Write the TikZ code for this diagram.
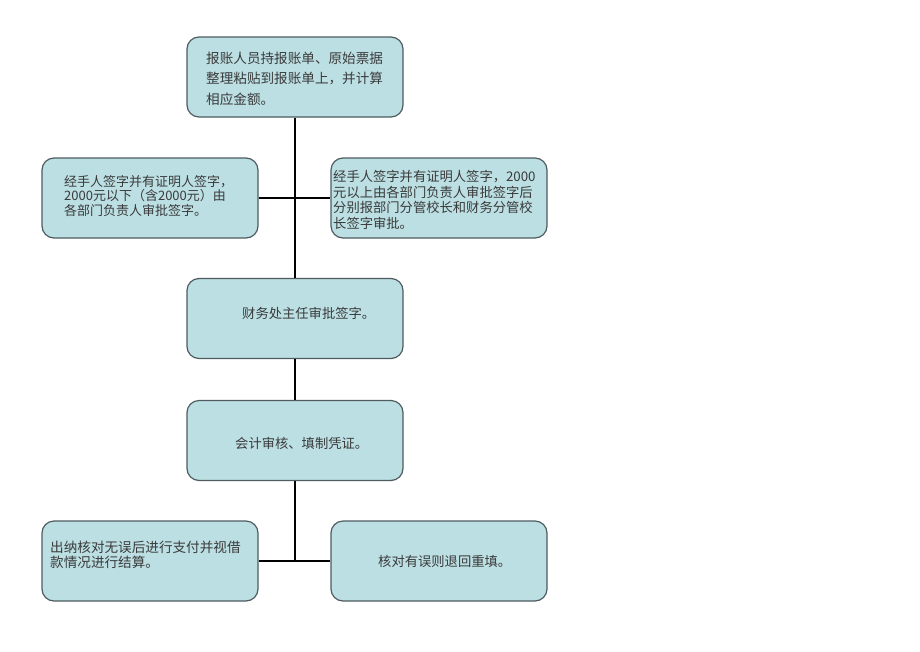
\documentclass[tikz,border=0pt]{standalone}
\usepackage{fontspec}
\newfontfamily\cjk{Noto Sans CJK SC}
\definecolor{boxfill}{HTML}{BCDFE3}
\definecolor{boxline}{HTML}{4E5C60}
\definecolor{txtcol}{HTML}{3A3A3A}
\begin{document}
\begin{tikzpicture}[x=1pt,y=-1pt,
  flowbox/.style={draw=boxline, fill=boxfill, line width=1.2pt, rounded corners=12pt,
    minimum width=216pt, minimum height=80pt, inner sep=0pt},
  boxtext/.style={anchor=west, inner sep=0pt, align=left, text=txtcol, font=\cjk\fontsize{13.3}{15.5}\selectfont},
  wire/.style={line width=2.4pt, black}]
\fill[white] (0,0) rectangle (920,651);
\useasboundingbox (0,0) rectangle (920,651);
% boxes
\node[flowbox] (b1) at (295,77) {};
\node[flowbox] (l1) at (150,198) {};
\node[flowbox] (r1) at (439,198) {};
\node[flowbox] (b3) at (295,318.5) {};
\node[flowbox] (b4) at (295,440.5) {};
\node[flowbox] (l2) at (150,561) {};
\node[flowbox] (r2) at (439,561) {};
\coordinate (j2) at (295,561);
% connectors
\draw[wire] (b1.south) -- (b3.north);
\draw[wire] (l1.east) -- (r1.west);
\draw[wire] (b3.south) -- (b4.north);
\draw[wire] (b4.south) -- (j2);
\draw[wire] (l2.east) -- (r2.west);
% texts
\node[boxtext, font=\cjk\fontsize{13.6}{20.5}\selectfont] (t1) at (206,78.5) {报账人员持报账单、原始票据\\整理粘贴到报账单上，并计算\\相应金额。};
\node[boxtext, font=\cjk\fontsize{13}{14.2}\selectfont] (tl1) at (64,196) {经手人签字并有证明人签字，\\2000元以下（含2000元）由\\各部门负责人审批签字。};
\node[boxtext] (tr1) at (333,200) {经手人签字并有证明人签字，2000\\元以上由各部门负责人审批签字后\\分别报部门分管校长和财务分管校\\长签字审批。};
\node[boxtext] (t3) at (242,313) {财务处主任审批签字。};
\node[boxtext] (t4) at (235,443) {会计审核、填制凭证。};
\node[boxtext, font=\cjk\fontsize{13.6}{15.5}\selectfont] (tl2) at (50,555) {出纳核对无误后进行支付并视借\\款情况进行结算。};
\node[boxtext] (tr2) at (378,561) {核对有误则退回重填。};
\end{tikzpicture}
\end{document}
